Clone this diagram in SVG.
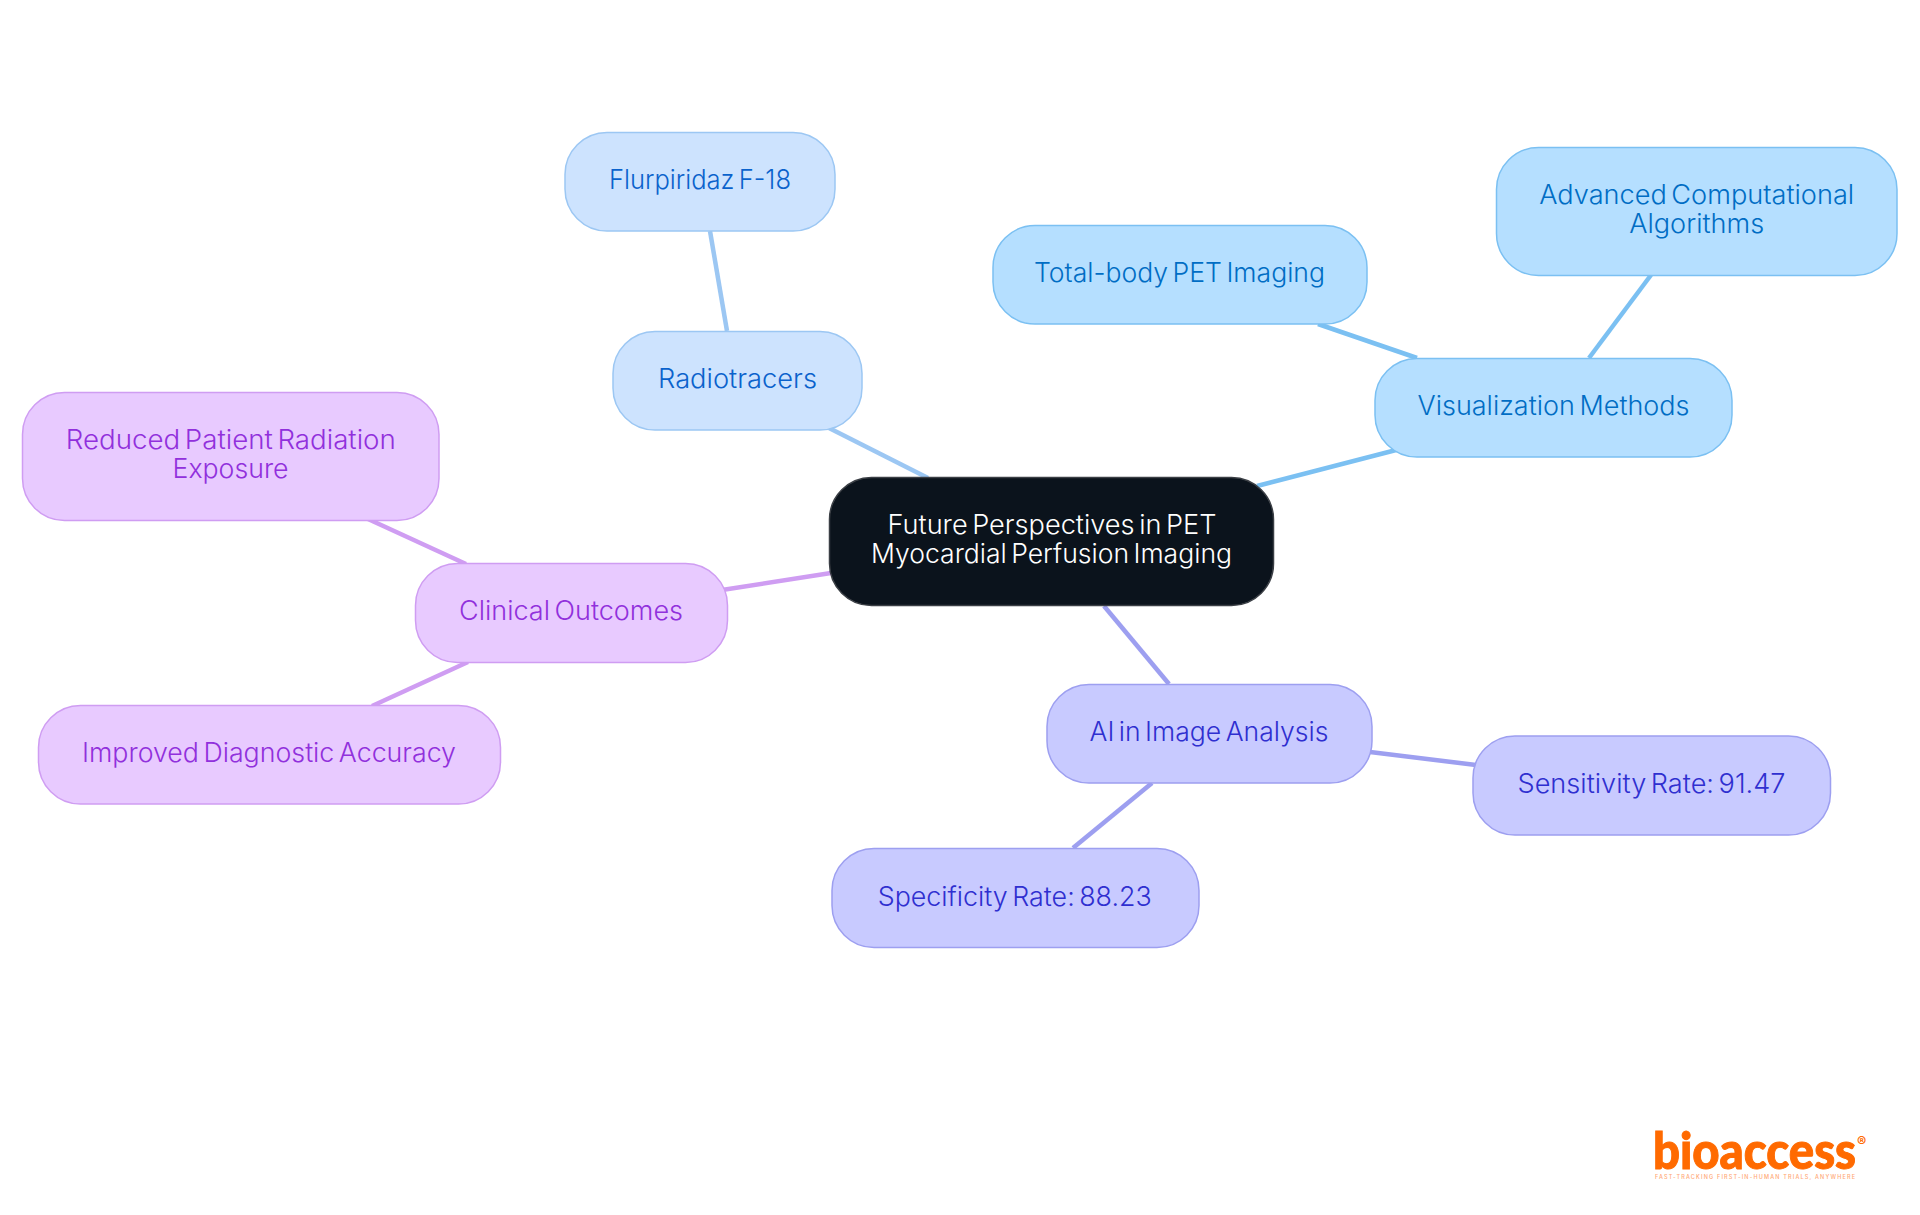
<svg xmlns="http://www.w3.org/2000/svg" width="1920" height="1215" viewBox="0 0 1920 1215">
<style>
text{font-family:Inter,"Noto Sans","Liberation Sans",sans-serif;font-size:26.500px;text-anchor:middle;font-weight:300;word-spacing:-3px}
rect{stroke-width:1.500}
.edge{fill:none;stroke-width:4.500}
.root rect{fill:#0b131c;stroke:#3b3f45}.root text{fill:#fff}
.sky rect{fill:#b5dfff;stroke:#7bc0f2}.sky text{fill:#006dc4}
.blue rect{fill:#cde3fe;stroke:#9cc7f3}.blue text{fill:#0a62cc}
.ind rect{fill:#c8caff;stroke:#9d9ff0}.ind text{fill:#2f2fd0}
.pur rect{fill:#e8caff;stroke:#cf9df2}.pur text{fill:#9130dc}
.sky-e{stroke:#7bc0f2}.blue-e{stroke:#9cc7f3}.ind-e{stroke:#9d9ff0}.pur-e{stroke:#cf9df2}
#logo text{fill:#ff6a00;text-anchor:start;word-spacing:0}
#logo .mark{font-family:Lato,Inter,"Liberation Sans",sans-serif;font-size:51px;font-weight:900;stroke:#ff6a00;stroke-width:1px}
#logo .reg{font-size:14px;font-weight:700}
#logo .tag{font-size:5.500px;font-weight:500;fill:#ffa875}
</style>
<rect width="1920" height="1215" fill="#fff" style="stroke:none"/>
<g id="connectors">
<path class="edge sky-e" d="M1257 486L1400 449"/>
<path class="edge sky-e" d="M1417 358L1318 324"/>
<path class="edge sky-e" d="M1589 358L1651 275"/>
<path class="edge blue-e" d="M928 478L829 428"/>
<path class="edge blue-e" d="M727 331L710 231"/>
<path class="edge ind-e" d="M1104 606L1169 684"/>
<path class="edge ind-e" d="M1370 752L1476 765"/>
<path class="edge ind-e" d="M1152 783L1073 848"/>
<path class="edge pur-e" d="M831 573L722 590"/>
<path class="edge pur-e" d="M466 564L368 519"/>
<path class="edge pur-e" d="M468 662L372 706"/>
</g>
<g id="root" class="root"><rect x="829.500" y="477.500" width="444" height="128" rx="42"/><text x="1052" y="534" textLength="329" lengthAdjust="spacingAndGlyphs">Future Perspectives in PET</text><text x="1051.500" y="563" textLength="361" lengthAdjust="spacingAndGlyphs">Myocardial Perfusion Imaging</text></g>
<g id="visualization" class="sky"><rect x="1375" y="358.500" width="357" height="98.500" rx="42"/><text x="1553.500" y="415" textLength="272" lengthAdjust="spacingAndGlyphs">Visualization Methods</text></g>
<g id="advanced" class="sky"><rect x="1496.500" y="147.500" width="400.500" height="128" rx="42"/><text x="1696.700" y="204" textLength="315" lengthAdjust="spacingAndGlyphs">Advanced Computational</text><text x="1696.700" y="233" textLength="135" lengthAdjust="spacingAndGlyphs">Algorithms</text></g>
<g id="totalbody" class="sky"><rect x="993" y="225.500" width="374" height="98.500" rx="42"/><text x="1179.500" y="282" textLength="291" lengthAdjust="spacingAndGlyphs">Total-body PET Imaging</text></g>
<g id="radiotracers" class="blue"><rect x="613" y="331.500" width="249" height="98.500" rx="42"/><text x="737.500" y="388" textLength="159" lengthAdjust="spacingAndGlyphs">Radiotracers</text></g>
<g id="flurpiridaz" class="blue"><rect x="565" y="132.500" width="270" height="98.500" rx="42"/><text x="700" y="189" textLength="182" lengthAdjust="spacingAndGlyphs">Flurpiridaz F-18</text></g>
<g id="ai" class="ind"><rect x="1047" y="684.500" width="325" height="98.500" rx="42"/><text x="1209" y="741" textLength="239" lengthAdjust="spacingAndGlyphs">AI in Image Analysis</text></g>
<g id="sensitivity" class="ind"><rect x="1473" y="736" width="357.500" height="99" rx="42"/><text x="1651.500" y="793" textLength="268" lengthAdjust="spacingAndGlyphs">Sensitivity Rate: 91.47</text></g>
<g id="specificity" class="ind"><rect x="832" y="848.500" width="367" height="99" rx="42"/><text x="1014.700" y="905.500" textLength="274" lengthAdjust="spacingAndGlyphs">Specificity Rate: 88.23</text></g>
<g id="clinical" class="pur"><rect x="415.500" y="563.500" width="312" height="99" rx="42"/><text x="571" y="620" textLength="224" lengthAdjust="spacingAndGlyphs">Clinical Outcomes</text></g>
<g id="reduced" class="pur"><rect x="22.500" y="392.500" width="416.500" height="128" rx="42"/><text x="230.800" y="449" textLength="330" lengthAdjust="spacingAndGlyphs">Reduced Patient Radiation</text><text x="230.500" y="478" textLength="116" lengthAdjust="spacingAndGlyphs">Exposure</text></g>
<g id="improved" class="pur"><rect x="38.500" y="705.500" width="462" height="98.500" rx="42"/><text x="269" y="762" textLength="374" lengthAdjust="spacingAndGlyphs">Improved Diagnostic Accuracy</text></g>
<g id="logo">
<text class="mark" x="1653" y="1169" textLength="203" lengthAdjust="spacingAndGlyphs">bioaccess</text>
<text class="reg" x="1857" y="1147">®</text>
<text class="tag" x="1655" y="1179" textLength="200" lengthAdjust="spacing">FAST-TRACKING FIRST-IN-HUMAN TRIALS, ANYWHERE</text>
</g>
</svg>
